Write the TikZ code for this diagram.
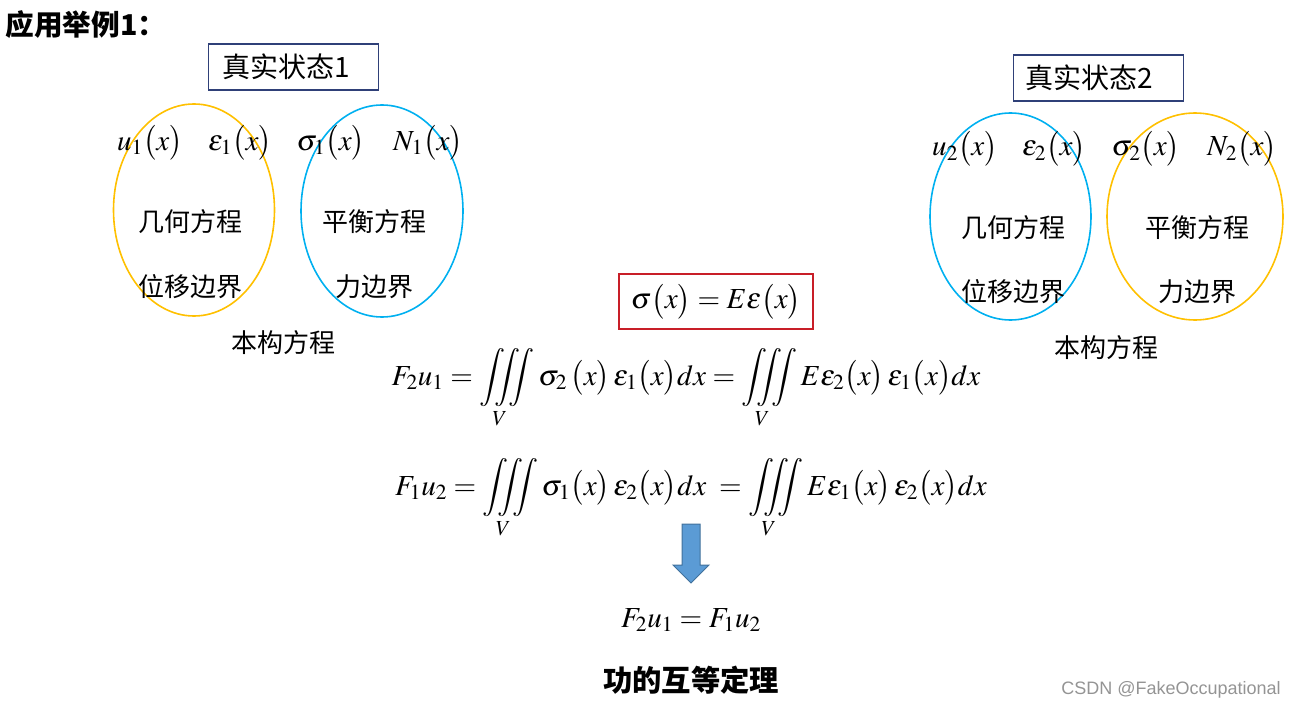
\documentclass[tikz,border=0pt]{standalone}
\usepackage{amsmath}
\usepackage{mathptmx}
\usepackage{fontspec}
\newfontfamily\cjkfont{Noto Sans CJK SC}
\newfontfamily\wmfont{Liberation Sans}
\newcommand{\px}[1]{\bigl(#1\bigr)}
\definecolor{ellyellow}{RGB}{255,192,0}
\definecolor{ellblue}{RGB}{0,176,240}
\definecolor{boxnavy}{RGB}{47,64,120}
\definecolor{boxred}{RGB}{200,30,40}
\definecolor{arrowfill}{RGB}{91,155,213}
\definecolor{arrowline}{RGB}{65,113,156}
\tikzset{every picture/.style={line width=0.75pt}}
\tikzset{
  cjktext/.style={font=\cjkfont\fontsize{19.5}{23}\selectfont, inner sep=0pt},
  cjkbold/.style={font=\cjkfont\bfseries\fontsize{21.5}{25}\selectfont, inner sep=0pt},
  eqn/.style={font=\fontsize{21.8}{26}\selectfont, inner sep=0pt, anchor=base},
  statebox/.style={draw=boxnavy, line width=1pt, anchor=west, font=\cjkfont\fontsize{21}{25}\selectfont,
    minimum height=34.5pt, text width=106.5pt, inner xsep=10.5pt, align=left},
  eqbox/.style={draw=boxred, line width=1pt, font=\fontsize{21.8}{26}\selectfont,
    minimum width=145.5pt, minimum height=41.25pt, inner sep=0pt}
}

\begin{document}
\begin{tikzpicture}[x=0.75pt,y=0.75pt,yscale=-1,xscale=1]
\path[use as bounding box] (0,0) rectangle (1300,710);

%Shape: Ellipse [left, geometry]
\draw [color=ellyellow, line width=1.2pt] (194,210) ellipse (80.5 and 106);
%Shape: Ellipse [left, equilibrium]
\draw [color=ellblue, line width=1.2pt] (382,211) ellipse (81 and 106);
%Shape: Ellipse [right, geometry]
\draw [color=ellblue, line width=1.2pt] (1010.5,216.5) ellipse (80.5 and 103.5);
%Shape: Ellipse [right, equilibrium]
\draw [color=ellyellow, line width=1.2pt] (1195,216.5) ellipse (88 and 103.5);
%Shape: Down Arrow
\draw [color=arrowline, fill=arrowfill] (682,524) -- (700,524) -- (700,565) -- (709,565) -- (691,583) -- (673,565) -- (682,565) -- cycle ;

% Text Node
\node (title) at (5,25) [cjkbold, anchor=west] {应用举例1：};
% Text Node
\node (state1) at (208,67) [statebox] {真实状态1};
% Text Node
\node (state2) at (1013,78) [statebox, inner xsep=9pt, text width=109.5pt] {真实状态2};

% Text Node
\node (u1) at (150,150) [eqn] {$u_1\px{x}$};
\node (eps1) at (240,150) [eqn] {$\varepsilon_1\px{x}$};
\node (sig1) at (331,150) [eqn] {$\sigma_1\px{x}$};
\node (n1) at (428,150) [eqn] {$N_1\px{x}$};
% Text Node
\node (u2) at (965,156) [eqn] {$u_2\px{x}$};
\node (eps2) at (1054,156) [eqn] {$\varepsilon_2\px{x}$};
\node (sig2) at (1146,156) [eqn] {$\sigma_2\px{x}$};
\node (n2) at (1242,156) [eqn] {$N_2\px{x}$};

% Text Node
\node (geom1) at (190,222) [cjktext] {几何方程};
\node (disp1) at (190,287) [cjktext] {位移边界};
\node (equi1) at (374,222) [cjktext] {平衡方程};
\node (force1) at (374,287) [cjktext] {力边界};
\node (const1) at (283,343) [cjktext] {本构方程};
% Text Node
\node (geom2) at (1013,228) [cjktext] {几何方程};
\node (disp2) at (1013,292) [cjktext] {位移边界};
\node (equi2) at (1197,228) [cjktext] {平衡方程};
\node (force2) at (1197,292) [cjktext] {力边界};
\node (const2) at (1106,348) [cjktext] {本构方程};

% Text Node
\node (hooke) at (716,301.5) [eqbox] {$\sigma\px{x}=E\varepsilon\px{x}$};
% Text Node
\node (work1) at (686,385) [eqn] {$\displaystyle F_2u_1=\iiint\limits_V\sigma_2\,\px{x}\,\varepsilon_1\px{x}dx=\iiint\limits_V E\varepsilon_2\px{x}\,\varepsilon_1\px{x}dx$};
% Text Node
\node (work2) at (691,495) [eqn] {$\displaystyle F_1u_2=\iiint\limits_V\sigma_1\px{x}\,\varepsilon_2\px{x}dx\;=\iiint\limits_V E\varepsilon_1\px{x}\,\varepsilon_2\px{x}dx$};
% Text Node
\node (recip) at (691,627) [eqn] {$F_2u_1=F_1u_2$};
% Text Node
\node (theorem) at (691,680) [cjkbold, font=\cjkfont\bfseries\fontsize{22}{26}\selectfont] {功的互等定理};
% Text Node
\node (mark) at (1171,690) [inner sep=0pt, text=black!42, font=\wmfont\fontsize{13.5}{16}\selectfont] {CSDN @FakeOccupational};

\end{tikzpicture}
\end{document}
